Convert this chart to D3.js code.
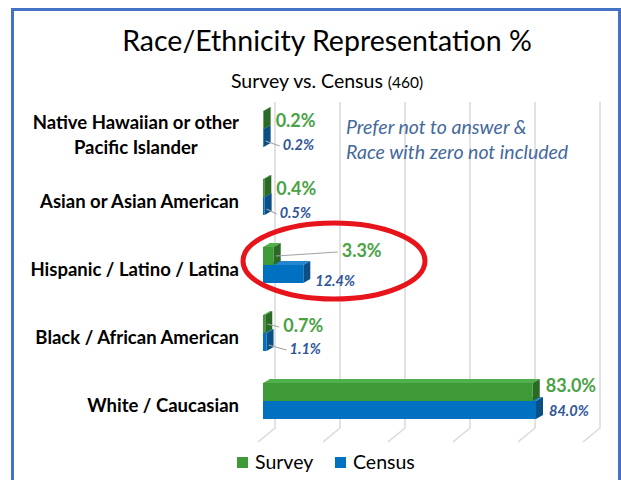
<!DOCTYPE html>
<html lang="en">
<head>
<meta charset="utf-8">
<title>Race/Ethnicity Representation %</title>
<style>
	body { margin: 0; background: #fff; overflow: hidden; }
	svg text { font-family: Lato, "Open Sans", sans-serif; }
</style>
</head>
<body>
<svg id="chart" width="621" height="480"></svg>
<script src="https://cdn.jsdelivr.net/npm/d3@7"></script>
<script>
// data
var categories = ["Native Hawaiian or other|Pacific Islander", "Asian or Asian American",
	"Hispanic / Latino / Latina", "Black / African American", "White / Caucasian"];
var survey = [0.2, 0.4, 3.3, 0.7, 83.0];
var census = [0.2, 0.5, 12.4, 1.1, 84.0];
var xTicks = [0, 20, 40, 60, 80, 100];

// hand-moved data labels (dx, dy) like in the original sheet
var surveyNudge = [[0, 2], [0, 2], [56, -4], [6, 3], [1, -5]];
var censusNudge = [[7, 0], [3, 0], [0, 0], [11, 0], [1, -6]];
var surveyLeader = [false, false, true, true, false];
var censusLeader = [true, true, false, true, false];

var svg = d3.select("#chart");
var green = "#3d9a37", greenTop = "#52b04b", greenSide = "#2a6a26";
var blue = "#0070c0", blueTop = "#2486d0", blueSide = "#0a4f85";
var dx3 = 7, dy3 = -4;   // bar depth

var x = d3.scaleLinear().domain([0, 100]).range([263, 588]);
var y = d3.scaleBand().domain(categories).range([95, 435]);
var barH = 18;

// frame
svg.append("rect").attr("x", 12.5).attr("y", 9.5).attr("width", 607).attr("height", 480)
	.attr("fill", "none").attr("stroke", "#4472c4").attr("stroke-width", 3);

// title
svg.append("text").attr("x", 327).attr("y", 51).attr("text-anchor", "middle")
	.style("font-size", "28.5px").attr("fill", "#000").text("Race/Ethnicity Representation %");
var sub = svg.append("text").attr("x", 327).attr("y", 88).attr("text-anchor", "middle")
	.style("font-size", "19.5px").attr("fill", "#000");
sub.append("tspan").text("Survey vs. Census ");
sub.append("tspan").style("font-size", "15.5px").text("(460)");

// back wall grid + floor
var grid = svg.append("g");
xTicks.forEach(function(t) {
	var gx = x(t) + 12;
	grid.append("path")
		.attr("d", "M" + gx + ",102V428L" + (x(t) - 5) + ",442")
		.attr("fill", "none").attr("stroke", "#d9d9d9").attr("stroke-width", 1.5);
});

// category labels (multi-line ones are centred as a block, right edge at 239)
var yAxis = svg.append("g");
categories.forEach(function(c) {
	var lines = c.split("|");
	var cy = y(c) + y.bandwidth() / 2 + 6;
	var t = yAxis.append("text").attr("x", 239).attr("text-anchor", "end")
		.style("font-size", "18.5px").style("font-weight", "bold").attr("fill", "#000");
	var spans = lines.map(function(l, i) {
		return t.append("tspan").attr("x", 239)
			.attr("y", cy + (lines.length > 1 ? 2 : 0) + (i - (lines.length - 1) / 2) * 25)
			.attr("dominant-baseline", "middle").text(l);
	});
	if (lines.length > 1) {
		var w = d3.max(spans, function(s) { return s.node().getComputedTextLength(); });
		t.attr("text-anchor", "middle");
		spans.forEach(function(s) { s.attr("x", 239 - w / 2); });
	}
});

function bar3d(g, x0, x1, y0, y1, front, top, side) {
	g.append("path").attr("fill", top)
		.attr("d", "M" + x0 + "," + y0 + "L" + x1 + "," + y0 + "l" + dx3 + "," + dy3 + "L" + (x0 + dx3) + "," + (y0 + dy3) + "Z");
	g.append("path").attr("fill", side)
		.attr("d", "M" + x1 + "," + y0 + "l" + dx3 + "," + dy3 + "V" + (y1 + dy3) + "L" + x1 + "," + y1 + "Z");
	g.append("rect").attr("x", x0).attr("y", y0).attr("width", Math.max(0, x1 - x0)).attr("height", y1 - y0)
		.attr("fill", front);
}

var bars = svg.append("g");
categories.forEach(function(c, i) {
	var mid = y(c) + y.bandwidth() / 2;
	bar3d(bars, x(0), x(census[i]), mid, mid + barH, blue, blueTop, blueSide);
	bar3d(bars, x(0), x(survey[i]), mid - barH, mid, green, greenTop, greenSide);
});

// data labels
var labels = svg.append("g");
categories.forEach(function(c, i) {
	var mid = y(c) + y.bandwidth() / 2;
	var sx = x(survey[i]) + 12 + surveyNudge[i][0], sy = mid - 9 + surveyNudge[i][1];
	var cx = x(census[i]) + 12 + censusNudge[i][0], cy = mid + 17 + censusNudge[i][1];
	if (surveyLeader[i]) {
		labels.append("line").attr("x1", x(survey[i]) + 2).attr("y1", mid - 9)
			.attr("x2", sx - 4).attr("y2", sy).attr("stroke", "#a6a6a6").attr("stroke-width", 1.2);
	}
	if (censusLeader[i]) {
		labels.append("line").attr("x1", x(census[i]) + 2).attr("y1", mid + 12)
			.attr("x2", cx - 3).attr("y2", cy).attr("stroke", "#a6a6a6").attr("stroke-width", 1.2);
	}
	labels.append("text").attr("x", sx).attr("y", sy).attr("dominant-baseline", "middle")
		.style("font-size", "18px").style("font-weight", "bold").attr("fill", "#4aa245")
		.text(survey[i].toFixed(1) + "%");
	labels.append("text").attr("x", cx).attr("y", cy).attr("dominant-baseline", "middle")
		.style("font-size", "14.5px").style("font-weight", "bold").style("font-style", "italic")
		.attr("fill", "#2f5597").text(census[i].toFixed(1) + "%");
});

// note
var note = svg.append("text").style("font-size", "19.5px").style("font-style", "italic").attr("fill", "#44699b");
note.append("tspan").attr("x", 346).attr("y", 134).text("Prefer not to answer &");
note.append("tspan").attr("x", 346).attr("y", 159).text("Race with zero not included");

// red highlight ellipse
svg.append("ellipse").attr("cx", 334).attr("cy", 261).attr("rx", 91).attr("ry", 38)
	.attr("fill", "none").attr("stroke", "#e8141c").attr("stroke-width", 5);

// legend
var legend = svg.append("g");
[["Survey", green, 237], ["Census", blue, 335]].forEach(function(d) {
	legend.append("rect").attr("x", d[2]).attr("y", 457).attr("width", 11).attr("height", 11).attr("fill", d[1]);
	legend.append("text").attr("x", d[2] + 18).attr("y", 469).style("font-size", "19.5px").attr("fill", "#000").text(d[0]);
});
</script>
</body>
</html>
